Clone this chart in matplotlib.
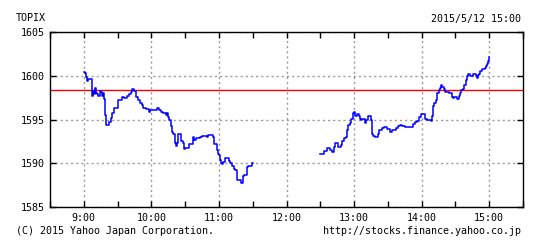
import numpy as np
import matplotlib
matplotlib.use("Agg")
import matplotlib.pyplot as plt
from matplotlib.ticker import MultipleLocator, FuncFormatter

# TOPIX intraday 2015/5/12
PREV_CLOSE = 1598.37

AM_TIMES = ["09:00", "09:01", "09:02", "09:03", "09:04", "09:07", "09:08", "09:09", "09:10",
            "09:11", "09:12", "09:13", "09:14", "09:15", "09:16", "09:17", "09:18", "09:19",
            "09:20", "09:22", "09:24", "09:25", "09:27", "09:30", "09:34", "09:36", "09:38",
            "09:40", "09:42", "09:43", "09:44", "09:45", "09:46", "09:48", "09:50", "09:52",
            "09:53", "09:55", "09:58", "09:59", "10:05", "10:07", "10:09", "10:10", "10:12",
            "10:13", "10:14", "10:15", "10:16", "10:17", "10:18", "10:19", "10:21", "10:22",
            "10:23", "10:24", "10:26", "10:28", "10:29", "10:30", "10:32", "10:33", "10:37",
            "10:38", "10:40", "10:43", "10:45", "10:49", "10:50", "10:55", "10:56", "10:58",
            "10:59", "11:00", "11:01", "11:02", "11:03", "11:04", "11:05", "11:09", "11:10",
            "11:12", "11:13", "11:14", "11:16", "11:20", "11:21", "11:22", "11:24", "11:25",
            "11:26", "11:29", "11:30"]
AM_VALUES = [1600.45, 1600.3, 1599.9, 1599.4, 1599.6, 1597.7, 1598.3, 1597.9, 1598.55,
             1598.0, 1597.9, 1597.7, 1598.25, 1598.2, 1597.7, 1598.0, 1597.4, 1595.5,
             1594.4, 1594.7, 1595.2, 1595.7, 1596.35, 1597.2, 1597.6, 1597.5, 1597.7,
             1597.9, 1598.2, 1598.45, 1598.5, 1598.25, 1597.6, 1597.2, 1596.9, 1596.7,
             1596.3, 1596.15, 1595.9, 1596.1, 1596.35, 1596.1, 1595.9, 1595.8, 1595.7,
             1595.5, 1595.7, 1595.3, 1594.9, 1594.25, 1593.6, 1593.4, 1592.35, 1591.97,
             1592.3, 1593.3, 1592.5, 1592.3, 1591.6, 1591.7, 1591.8, 1592.2, 1593.0,
             1592.7, 1592.85, 1593.0, 1593.15, 1593.0, 1593.2, 1593.0, 1592.2, 1591.5,
             1591.1, 1590.9, 1590.4, 1590.0, 1589.9, 1590.2, 1590.6, 1590.25, 1590.0,
             1589.7, 1589.3, 1589.2, 1588.1, 1587.7, 1588.5, 1588.65, 1588.7, 1589.6,
             1589.7, 1590.0, 1590.0]

PM_TIMES = ["12:30", "12:32", "12:33", "12:36", "12:39", "12:40", "12:42", "12:43", "12:46",
            "12:48", "12:49", "12:51", "12:53", "12:54", "12:55", "12:56", "12:57", "12:59",
            "13:00", "13:01", "13:03", "13:04", "13:05", "13:06", "13:07", "13:10", "13:11",
            "13:12", "13:15", "13:16", "13:17", "13:19", "13:21", "13:22", "13:25", "13:27",
            "13:29", "13:32", "13:34", "13:37", "13:39", "13:41", "13:43", "13:45", "13:52",
            "13:54", "13:56", "13:58", "13:59", "14:03", "14:05", "14:08", "14:09", "14:10",
            "14:11", "14:13", "14:14", "14:15", "14:16", "14:17", "14:18", "14:20", "14:21",
            "14:24", "14:27", "14:28", "14:29", "14:31", "14:33", "14:34", "14:35", "14:37",
            "14:38", "14:39", "14:40", "14:41", "14:43", "14:46", "14:48", "14:49", "14:50",
            "14:51", "14:52", "14:54", "14:56", "14:57", "14:58", "14:59", "15:00"]
PM_VALUES = [1591.06, 1591.1, 1591.4, 1591.8, 1591.5, 1591.25, 1591.9, 1592.35, 1591.9,
             1592.1, 1592.6, 1592.85, 1593.0, 1593.8, 1594.4, 1594.6, 1595.1, 1595.7,
             1595.9, 1595.4, 1595.6, 1595.4, 1595.1, 1594.9, 1595.1, 1594.6, 1595.0,
             1595.4, 1594.9, 1593.4, 1593.15, 1593.0, 1593.35, 1593.8, 1594.0, 1594.1,
             1593.9, 1593.6, 1593.8, 1594.0, 1594.25, 1594.4, 1594.3, 1594.2, 1594.45,
             1594.7, 1594.85, 1595.3, 1595.6, 1595.05, 1594.9, 1594.8, 1595.4, 1596.5,
             1596.85, 1597.2, 1598.0, 1598.4, 1598.6, 1599.0, 1598.75, 1598.45, 1598.2,
             1598.05, 1597.6, 1597.5, 1597.6, 1597.35, 1597.7, 1598.05, 1598.4, 1598.5,
             1598.95, 1599.5, 1600.0, 1600.2, 1600.0, 1600.2, 1600.0, 1599.7, 1600.1,
             1600.2, 1600.55, 1600.8, 1600.85, 1601.1, 1601.3, 1601.7, 1602.2]

Y_TICKS = [1585, 1590, 1595, 1600, 1605]


def to_min(hhmm):
    h, m = hhmm.split(":")
    return int(h) * 60 + int(m)


FONT = "DejaVu Sans Mono"
FS = 7.2

fig = plt.figure(figsize=(5.43, 2.44), dpi=100)
ax = fig.add_axes([50 / 543, 37 / 244, 473 / 543, 175 / 244])

for times, vals in ((AM_TIMES, AM_VALUES), (PM_TIMES, PM_VALUES)):
    ax.plot([to_min(t) for t in times], vals, color="#0000ff", lw=1.1,
            drawstyle="steps-post", zorder=3)
ax.axhline(PREV_CLOSE, color="#ff0000", lw=1.0, zorder=2)

ax.set_xlim(to_min("08:30"), to_min("15:30"))
ax.set_ylim(Y_TICKS[0], Y_TICKS[-1])
ax.xaxis.set_major_locator(MultipleLocator(60))
ax.xaxis.set_minor_locator(MultipleLocator(30))
ax.xaxis.set_major_formatter(FuncFormatter(lambda v, p: f"{int(v) // 60}:{int(v) % 60:02d}"))
ax.set_yticks(Y_TICKS)
ax.tick_params(which="both", direction="in", length=4, width=1, top=True, right=True,
               labelsize=FS, pad=4)
for lab in ax.get_xticklabels() + ax.get_yticklabels():
    lab.set_fontfamily(FONT)
ax.grid(True, which="major", color="#999999", lw=1, linestyle=(0, (1.5, 2.2)))
for s in ax.spines.values():
    s.set_linewidth(1)

fig.text(16 / 543, 1 - 18 / 244, "TOPIX", family=FONT, fontsize=FS, va="center", ha="left")
fig.text(521 / 543, 1 - 19 / 244, "2015/5/12 15:00", family=FONT, fontsize=FS,
         va="center", ha="right")
fig.text(16 / 543, 1 - 231 / 244, "(C) 2015 Yahoo Japan Corporation.", family=FONT,
         fontsize=FS, va="center", ha="left")
fig.text(521 / 543, 1 - 231 / 244, "http://stocks.finance.yahoo.co.jp", family=FONT,
         fontsize=FS, va="center", ha="right")

fig.savefig("out.png", dpi=100)
